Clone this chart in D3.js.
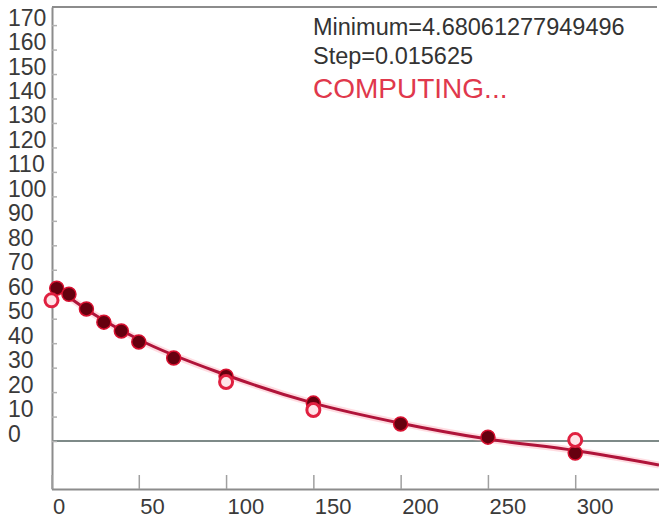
<!DOCTYPE html>
<html>
<head>
<meta charset="utf-8">
<script src="https://cdn.jsdelivr.net/npm/d3@7"></script>
<style>
  html, body { margin: 0; padding: 0; background: #fff; }
  svg { display: block; }
  text { font-family: "Liberation Sans", Arial, sans-serif; }
</style>
</head>
<body>
<svg id="chart" width="659" height="519"></svg>
<script>
// Measured decay samples (time vs. value)
const measuredX = [3, 10, 20, 30, 40, 50, 70, 100, 150, 200, 250, 300];
const measuredY = [62.5, 60, 54, 48.6, 45, 40.5, 33.9, 26.5, 15.5, 7, 1.6, -4.9];

// Reference samples drawn as open rings
const refX = [0, 100, 150, 300];
const refY = [57.5, 24.1, 12.7, 0.4];

// Fitted model curve, sampled along x
const fitX = [0, 25, 50, 100, 150, 200, 250, 300, 348];
const fitY = [64, 51.5, 41.5, 27, 15.5, 7.3, 0.8, -3.9, -9.8];

const xTicks = [0, 50, 100, 150, 200, 250, 300];
const yTicks = d3.range(0, 171, 10);

const infoLines = ["Minimum=4.68061277949496", "Step=0.015625"];
const statusText = "COMPUTING...";

const plotLeft = 52, plotRight = 659, plotTop = 7, plotBottom = 489;

const svg = d3.select("#chart");

const x = d3.scaleLinear().domain([0, 348]).range([51.5, 659]);
const y = d3.scaleLinear().domain([-19.6, 177.4]).range([plotBottom, plotTop]);

const axisColor = "#8c8c8c";

// top border
svg.append("line")
  .attr("x1", plotLeft).attr("x2", 657)
  .attr("y1", plotTop).attr("y2", plotTop)
  .attr("stroke", axisColor).attr("stroke-width", 2);

// zero reference line
svg.append("line")
  .attr("x1", plotLeft).attr("x2", plotRight)
  .attr("y1", y(0)).attr("y2", y(0))
  .attr("stroke", "#7e8a88").attr("stroke-width", 2);

// y axis: ticks point inward, labels left-aligned with baseline on the tick
const yAxis = svg.append("g")
  .attr("transform", `translate(${plotLeft},0)`)
  .call(d3.axisLeft(y).tickValues(yTicks).tickSizeInner(-5).tickSizeOuter(0).tickFormat(d3.format("d")));
yAxis.select(".domain").attr("stroke", axisColor).attr("stroke-width", 2);
yAxis.selectAll(".tick line").attr("stroke", "#b0b0b0").attr("stroke-width", 1.5);
yAxis.selectAll(".tick text")
  .attr("x", 8 - plotLeft).attr("dy", 0).attr("y", 0)
  .attr("text-anchor", "start")
  .attr("fill", "#3a3a3a")
  .style("font-size", "23px");

// x axis: ticks point upward, labels start at the tick
const xAxis = svg.append("g")
  .attr("transform", `translate(0,${plotBottom})`)
  .call(d3.axisBottom(x).tickValues(xTicks).tickSizeInner(-14).tickSizeOuter(0).tickFormat(d3.format("d")));
xAxis.select(".domain").attr("stroke", axisColor).attr("stroke-width", 2);
xAxis.selectAll(".tick line").attr("stroke", "#a0a0a0").attr("stroke-width", 1.5);
xAxis.selectAll(".tick text")
  .attr("x", 1).attr("y", 25).attr("dy", 0)
  .attr("text-anchor", "start")
  .attr("fill", "#3a3a3a")
  .style("font-size", "22px");
svg.selectAll("g").attr("font-family", null);

// fitted curve with a soft halo
const fitData = fitX.map((d, i) => [d, fitY[i]]);
const line = d3.line().x(d => x(d[0])).y(d => y(d[1])).curve(d3.curveMonotoneX);
svg.append("path").datum(fitData)
  .attr("d", line).attr("fill", "none")
  .attr("stroke", "#ff9aa8").attr("stroke-width", 7).attr("stroke-opacity", 0.35);
svg.append("path").datum(fitData)
  .attr("d", line).attr("fill", "none")
  .attr("stroke", "#b0143a").attr("stroke-width", 3);

// measured points
svg.append("g").selectAll("circle")
  .data(measuredX.map((d, i) => [d, measuredY[i]]))
  .join("circle")
  .attr("cx", d => x(d[0])).attr("cy", d => y(d[1]))
  .attr("r", 7)
  .attr("fill", "#66000f")
  .attr("stroke", "#d81030").attr("stroke-width", 1.5);

// reference rings
svg.append("g").selectAll("circle")
  .data(refX.map((d, i) => [d, refY[i]]))
  .join("circle")
  .attr("cx", d => x(d[0])).attr("cy", d => y(d[1]))
  .attr("r", 6.5)
  .attr("fill", "#ffe4e8")
  .attr("stroke", "#e02040").attr("stroke-width", 3);

// status text block
const info = svg.append("g").attr("transform", "translate(313,0)");
info.selectAll("text.info")
  .data(infoLines)
  .join("text")
  .attr("class", "info")
  .attr("x", 0).attr("y", (d, i) => 35 + i * 29)
  .attr("fill", "#333")
  .style("font-size", "23.5px")
  .text(d => d);
info.append("text")
  .attr("x", 0).attr("y", 98)
  .attr("fill", "#e0384c")
  .style("font-size", "28px")
  .text(statusText);
</script>
</body>
</html>
